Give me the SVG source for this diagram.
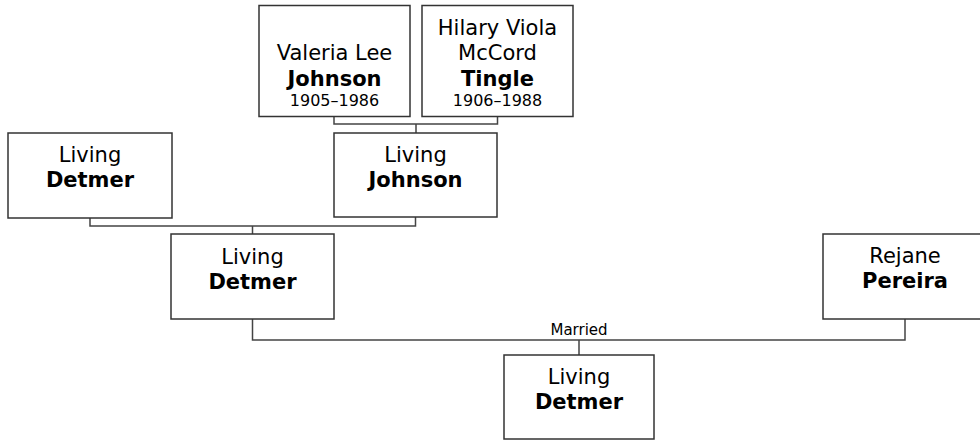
<svg xmlns="http://www.w3.org/2000/svg" width="980" height="441" viewBox="0 0 980 441">
<style>
.box{fill:#fff;stroke:#333;stroke-width:1.5}
.ln{fill:none;stroke:#444;stroke-width:1.5}
text{font-family:"DejaVu Sans",Verdana,sans-serif;fill:#000;text-anchor:middle}
.n{font-size:21px}
.b{font-size:21px;font-weight:bold}
.d{font-size:16px}
.m{font-size:15px}
</style>
<rect width="980" height="441" fill="#fff"/>
<g id="connectors">
<path class="ln" d="M334,117 V124 H497.5 V117 M416,124 V133"/>
<path class="ln" d="M90,218 V226 H415.5 V217 M252.5,226 V234"/>
<path class="ln" d="M252.5,319 V340 H905 V319 M579,340 V355"/>
<text class="m" x="579" y="335">Married</text>
</g>
<g id="valeria">
<rect class="box" x="259" y="5.5" width="151" height="111"/>
<text class="n" x="334.5" y="60">Valeria Lee</text>
<text class="b" x="334.5" y="86">Johnson</text>
<text class="d" x="334.5" y="106">1905–1986</text>
</g>
<g id="hilary">
<rect class="box" x="422" y="5.5" width="151" height="111"/>
<text class="n" x="497.5" y="35">Hilary Viola</text>
<text class="n" x="497.5" y="60">McCord</text>
<text class="b" x="497.5" y="86">Tingle</text>
<text class="d" x="497.5" y="106">1906–1988</text>
</g>
<g id="detmer-father">
<rect class="box" x="8" y="133" width="164" height="85"/>
<text class="n" x="90" y="162">Living</text>
<text class="b" x="90" y="187">Detmer</text>
</g>
<g id="johnson">
<rect class="box" x="334" y="133" width="163" height="84"/>
<text class="n" x="415.5" y="162">Living</text>
<text class="b" x="415.5" y="187">Johnson</text>
</g>
<g id="detmer">
<rect class="box" x="171" y="234" width="163" height="85"/>
<text class="n" x="252.5" y="264">Living</text>
<text class="b" x="252.5" y="289">Detmer</text>
</g>
<g id="rejane">
<rect class="box" x="823" y="234" width="164" height="85"/>
<text class="n" x="905" y="263">Rejane</text>
<text class="b" x="905" y="288">Pereira</text>
</g>
<g id="detmer-child">
<rect class="box" x="504" y="355" width="150" height="84"/>
<text class="n" x="579" y="384">Living</text>
<text class="b" x="579" y="409">Detmer</text>
</g>
</svg>
